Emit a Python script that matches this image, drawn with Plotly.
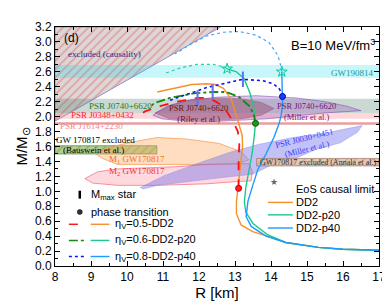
import plotly.graph_objects as go

# ---------------- data (R in km, M in solar masses) ----------------
# hadronic EoS branches
dd2_R = [17.0, 16.0, 15.32, 14.41, 13.9, 13.49, 13.17, 13.04, 13.04, 13.07, 13.12, 13.17, 13.21, 13.20,
         13.12, 13.04, 12.90, 12.68, 12.45, 12.21, 11.80, 11.39, 10.84]
dd2_M = [0.21, 0.225, 0.25, 0.315, 0.40, 0.46, 0.55, 0.70, 0.86, 1.00, 1.20, 1.40, 1.60, 1.75,
         1.90, 2.01, 2.23, 2.38, 2.43, 2.44, 2.43, 2.39, 2.33]

p20_R = [17.0, 16.0, 15.32, 14.41, 13.9, 13.5, 13.30, 13.26, 13.30, 13.40, 13.48, 13.53, 13.57, 13.52,
         13.42, 13.25, 13.04, 12.78]
p20_M = [0.21, 0.225, 0.25, 0.315, 0.42, 0.57, 0.72, 0.86, 1.05, 1.30, 1.52, 1.72, 1.91, 2.12,
         2.31, 2.51, 2.60, 2.64]
p20_acausal_R = [12.78, 12.71, 12.40, 11.94, 11.47, 11.06]
p20_acausal_M = [2.64, 2.66, 2.70, 2.70, 2.65, 2.58]

p40_R = [17.0, 16.0, 15.32, 14.41, 13.86, 13.45, 13.31, 13.36, 13.50, 13.64, 13.86, 14.08, 14.22,
         14.28, 14.32, 14.32, 14.32, 14.30]
p40_M = [0.21, 0.225, 0.25, 0.315, 0.40, 0.53, 0.66, 0.87, 1.09, 1.30, 1.50, 1.72, 1.90,
         2.01, 2.15, 2.27, 2.45, 2.60]
p40_acausal_R = [14.30, 14.30, 14.19, 13.95, 13.59, 13.12, 12.68, 12.21, 11.74, 11.33]
p40_acausal_M = [2.60, 2.63, 2.82, 2.99, 3.09, 3.14, 3.13, 3.08, 2.96, 2.84]

# hybrid branches (after phase transition)
h05_R = [13.10, 13.09, 13.10, 13.12, 13.08, 12.95, 12.68, 12.29, 11.96, 11.39, 10.92, 10.50, 10.23]
h05_M = [1.04, 1.25, 1.46, 1.62, 1.80, 1.93, 2.14, 2.25, 2.25, 2.20, 2.14, 2.07, 1.99]
h06_R = [13.57, 13.52, 13.40, 13.12, 12.76, 12.38, 11.85, 11.19, 10.75, 10.62]
h06_M = [1.91, 2.03, 2.14, 2.26, 2.33, 2.33, 2.31, 2.25, 2.18, 2.11]
h08_R = [14.32, 14.28, 14.22, 14.06, 13.78, 13.22, 12.76, 12.21, 11.74, 11.19]
h08_M = [2.27, 2.33, 2.38, 2.44, 2.48, 2.50, 2.45, 2.39, 2.31, 2.22]

# special points
mmax_R = [11.96, 12.38, 13.22]
mmax_M = [2.25, 2.33, 2.50]
pt_R = [13.10, 13.57, 14.32]
pt_M = [1.04, 1.91, 2.27]
causal_pt_R = [12.78, 14.30]
causal_pt_M = [2.64, 2.60]

# constraints
causality_R = [8.0, 12.6, 8.0]
causality_M = [1.94, 3.2, 3.2]
band_R = [8.0, 17.0]
gw190814_M = [2.52, 2.69]
j0740_M = [2.05, 2.24]
j0348_M = [1.97, 2.05]
j1614_M = [1.892, 1.924]
bauswein_R = [8.0, 10.83]
bauswein_M = [1.50, 1.61]
annala_R = [13.6, 17.0]
annala_M = [1.34, 1.44]

m1_R = [9.13, 9.50, 10.15, 10.84, 11.66, 12.57, 13.17, 13.39, 13.09, 12.21, 10.84, 9.73, 9.32]
m1_M = [1.50, 1.59, 1.66, 1.72, 1.70, 1.64, 1.53, 1.42, 1.37, 1.36, 1.36, 1.36, 1.44]
m2_R = [8.83, 9.18, 9.73, 10.37, 11.39, 12.21, 13.39, 13.48, 13.45, 13.04, 12.21, 10.84, 9.73, 9.05]
m2_M = [1.17, 1.26, 1.30, 1.31, 1.33, 1.36, 1.37, 1.27, 1.14, 1.13, 1.10, 1.08, 1.08, 1.11]
j0030_R = [10.37, 11.03, 11.94, 12.84, 13.67, 14.61, 15.51, 16.06, 16.53, 16.40, 15.93, 15.24, 14.77,
           14.08, 13.50, 12.57, 11.66, 10.84, 10.45]
j0030_M = [1.05, 1.21, 1.37, 1.52, 1.63, 1.72, 1.78, 1.83, 1.88, 1.79, 1.65, 1.56, 1.46,
           1.37, 1.23, 1.18, 1.13, 1.08, 1.03]
riley_R = [10.78, 11.25, 11.80, 12.49, 13.17, 13.73, 14.08, 13.73, 13.17, 12.49, 11.80, 11.19]
riley_M = [2.05, 2.16, 2.23, 2.25, 2.24, 2.19, 2.11, 2.02, 1.97, 1.95, 1.95, 1.97]
miller_R = [10.72, 11.11, 11.66, 12.49, 13.59, 14.69, 15.51, 16.10, 16.50, 16.10, 15.51, 14.69,
            13.86, 13.04, 12.21, 11.39, 10.97]
miller_M = [2.02, 2.14, 2.21, 2.26, 2.28, 2.25, 2.20, 2.14, 2.08, 2.07, 2.05, 2.01,
            1.97, 1.95, 1.93, 1.95, 1.97]

# ---------------- figure ----------------
fig = go.Figure()
SERIF = "Times New Roman"
SANS = "Liberation Sans, Arial, sans-serif"


def region(R, M, fillcolor, linecolor="rgba(0,0,0,0)", lw=0.8, pattern=None):
    kw = dict(x=list(R) + [R[0]], y=list(M) + [M[0]], mode="lines", fill="toself",
              fillcolor=fillcolor, line=dict(color=linecolor, width=lw),
              hoverinfo="skip", showlegend=False)
    if pattern:
        kw["fillpattern"] = pattern
    fig.add_trace(go.Scatter(**kw))


def box(Rr, Mr, fillcolor, linecolor="rgba(0,0,0,0)", pattern=None):
    region([Rr[0], Rr[1], Rr[1], Rr[0]], [Mr[0], Mr[0], Mr[1], Mr[1]], fillcolor, linecolor, 0.8, pattern)


region(causality_R, causality_M, "rgba(170,160,160,0.45)", "rgba(120,120,200,0.8)", 1,
       dict(shape="/", size=6, solidity=0.3, fgcolor="rgba(235,85,85,0.85)", bgcolor="rgba(185,175,175,0.5)"))
box(band_R, gw190814_M, "rgba(0,215,235,0.22)")
box(band_R, j0740_M, "rgba(70,120,100,0.28)")
box(band_R, j0348_M, "rgba(255,140,150,0.35)")
box(band_R, j1614_M, "rgba(215,80,80,0.55)")
box(bauswein_R, bauswein_M, "rgba(120,180,80,0.6)", "rgba(80,140,60,0.9)",
    dict(shape="/", size=6, solidity=0.25, fgcolor="rgba(140,110,60,0.85)", bgcolor="rgba(140,190,100,0.7)"))
region(m1_R, m1_M, "rgba(255,170,100,0.40)", "rgba(245,140,60,0.8)")
region(m2_R, m2_M, "rgba(255,170,180,0.45)", "rgba(240,90,100,0.8)")
region(j0030_R, j0030_M, "rgba(110,110,235,0.42)", "rgba(130,130,240,0.5)")
region(riley_R, riley_M, "rgba(140,50,50,0.40)", "rgba(140,60,60,0.5)")
region(miller_R, miller_M, "rgba(150,90,190,0.32)", "rgba(130,70,170,0.7)")
box(annala_R, annala_M, "rgba(215,170,140,0.8)", "rgba(150,110,90,0.8)",
    dict(shape="/", size=6, solidity=0.25, fgcolor="rgba(190,120,100,0.85)", bgcolor="rgba(225,195,170,0.9)"))


def curve(R, M, color, width=1.4, dash="solid"):
    fig.add_trace(go.Scatter(x=R, y=M, mode="lines", line=dict(color=color, width=width, dash=dash),
                             hoverinfo="skip", showlegend=False))


ORANGE, TEAL, SKY = "#f5902a", "#1ec88c", "#1a9cff"
curve(p20_acausal_R, p20_acausal_M, "#25d0a0", 1.2, "dot")
curve(p40_acausal_R, p40_acausal_M, "#40a8ff", 1.2, "dot")
curve(dd2_R, dd2_M, ORANGE)
curve(p20_R, p20_M, TEAL)
curve(p40_R, p40_M, SKY)
curve(h05_R, h05_M, "#ff1010", 1.8, "dash")
curve(h06_R, h06_M, "#138a13", 1.8, "dashdot")
curve(h08_R, h08_M, "#1010ff", 1.6, "dot")

fig.add_trace(go.Scatter(x=mmax_R, y=mmax_M, mode="markers", hoverinfo="skip", showlegend=False,
                         marker=dict(symbol="line-ns-open", size=11,
                                     line=dict(color=["#ff1010", "#138a13", "#1010ff"], width=2))))
fig.add_trace(go.Scatter(x=pt_R, y=pt_M, mode="markers", hoverinfo="skip", showlegend=False,
                         marker=dict(symbol="circle", size=6, color=["#ff2020", "#1a9a1a", "#1a3cff"],
                                     line=dict(color=["#b00000", "#0a5a0a", "#0000a0"], width=1))))
fig.add_trace(go.Scatter(x=causal_pt_R, y=causal_pt_M, mode="markers", hoverinfo="skip", showlegend=False,
                         marker=dict(symbol="star-open", size=8, line=dict(color=["#25d0a0", "#40a8ff"], width=1))))

# ---------------- text labels ----------------
def label(R, M, text, color, size=9, family=SERIF, angle=0):
    fig.add_annotation(x=R, y=M, text=text, showarrow=False, textangle=angle,
                       font=dict(family=family, size=size, color=color))


label(8.47, 3.05, "(d)", "black", 12, SANS)
label(9.38, 2.84, "excluded (causality)", "#2a2a90", 9)
label(15.73, 2.96, "B=10 MeV/fm<sup>3</sup>", "black", 13, SANS)
label(16.26, 2.58, "GW190814", "#1a9a9a", 9)
label(9.82, 2.145, "PSR J0740+6620", "#2a7a2a", 9)
label(9.32, 2.02, "PSR J0348+0432", "#ff2030", 9)
label(9.02, 1.87, "PSR J1614+2230", "#f08890", 9)
label(9.13, 1.69, "GW 170817 excluded", "black", 9)
label(9.07, 1.55, "(Bauswein et al.)", "black", 9)
label(10.28, 1.43, "M<sub>1</sub> GW170817", "#f07020", 9)
label(10.28, 1.27, "M<sub>2</sub> GW170817", "#f03030", 9)
label(11.99, 2.04, "PSR J0740+6620<br>(Riley et al.)", "#7a1010", 8.5)
label(14.99, 2.07, "PSR J0740+6620<br>(Miller et al.)", "#7a107a", 8.5)
label(14.96, 1.635, "PSR J0030+0451<br>(Miller et al.)", "#3a3aff", 8.5, SERIF, -14)
label(15.32, 1.39, "GW170817 excluded (Annala et al.)", "#333333", 8)

# ---------------- legends (paper coordinates) ----------------
def ltext(x, y, text):
    fig.add_annotation(x=x, y=y, xref="paper", yref="paper", xanchor="left", yanchor="middle",
                       text=text, showarrow=False, font=dict(family=SANS, size=11, color="black"))


def lline(x0, x1, y, color, dash="solid", width=1.4):
    fig.add_shape(type="line", xref="paper", yref="paper", x0=x0, x1=x1, y0=y, y1=y,
                  line=dict(color=color, width=width, dash=dash))


fig.add_shape(type="line", xref="paper", yref="paper", x0=0.0765, x1=0.0765, y0=0.282, y1=0.315,
              line=dict(color="black", width=2.5))
ltext(0.105, 0.298, "M<sub>max</sub> star")
fig.add_shape(type="circle", xref="paper", yref="paper", xsizemode="pixel", ysizemode="pixel",
              xanchor=0.0765, yanchor=0.226, x0=-2.5, x1=2.5, y0=-2.5, y1=2.5,
              fillcolor="#333333", line=dict(color="black", width=0.5))
ltext(0.105, 0.226, "phase transition")
rows = [(0.1746, "#ff1010", "dash", ORANGE, "η<sub>V</sub>=0.5-DD2"),
        (0.107, "#138a13", "dashdot", TEAL, "η<sub>V</sub>=0.6-DD2-p20"),
        (0.0397, "#1010ff", "dot", SKY, "η<sub>V</sub>=0.8-DD2-p40")]
for y, c1, d1, c2, t in rows:
    lline(0.0428, 0.0948, y, c1, d1, 1.4)
    lline(0.110, 0.168, y, c2)
    ltext(0.178, y, t)

fig.add_annotation(x=0.694, y=0.321, xref="paper", yref="paper", text="★", showarrow=False,
                   font=dict(family=SANS, size=9, color="#666666"))
ltext(0.738, 0.321, "EoS causal limit")
for y, c, t in [(0.266, ORANGE, "DD2"), (0.214, TEAL, "DD2-p20"), (0.159, SKY, "DD2-p40")]:
    lline(0.657, 0.734, y, c)
    ltext(0.738, y, t)

axis_common = dict(showline=True, linecolor="black", linewidth=1, mirror="ticks", ticks="inside",
                   ticklen=5, tickcolor="black", showgrid=False, zeroline=False,
                   tickfont=dict(family=SANS, size=12, color="black"))
fig.update_xaxes(range=[8, 17], dtick=1, tick0=8,
                 minor=dict(dtick=0.5, ticks="inside", ticklen=3, tickcolor="black"),
                 title=dict(text="R [km]", font=dict(family=SANS, size=15, color="black"), standoff=3),
                 **axis_common)
fig.update_yaxes(range=[0, 3.2], dtick=0.2, tick0=0, tickformat=".1f",
                 minor=dict(dtick=0.1, ticks="inside", ticklen=3, tickcolor="black"),
                 title=dict(text="M/M<sub>⊙</sub>", font=dict(family=SANS, size=15, color="black"), standoff=3),
                 **axis_common)
fig.update_layout(width=390, height=302, margin=dict(l=47, r=16, t=13, b=37),
                  plot_bgcolor="white", paper_bgcolor="white", showlegend=False)
fig.write_html("out.html")
